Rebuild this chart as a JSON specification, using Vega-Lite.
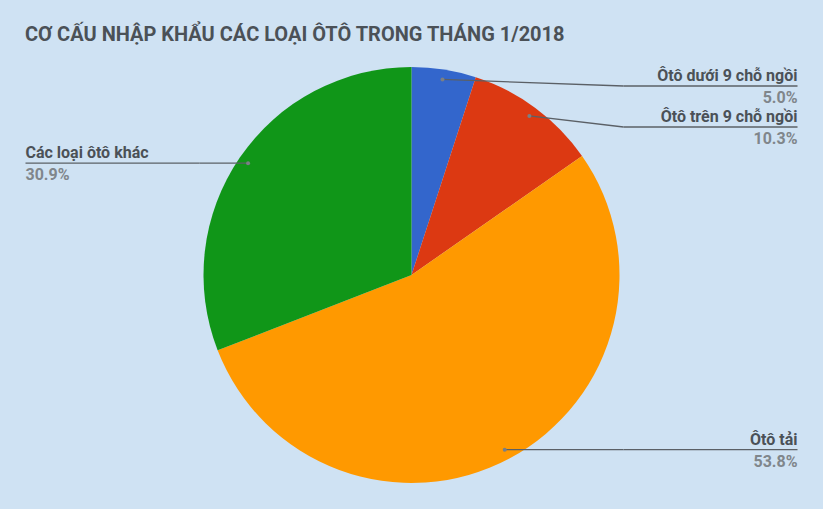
{
  "$schema": "https://vega.github.io/schema/vega-lite/v6.json",
  "width": 823,
  "height": 468,
  "autosize": "none",
  "padding": {"left": 0, "top": 41, "right": 0, "bottom": 0},
  "background": "#cfe2f3",
  "config": {"view": {"stroke": null}, "font": "Roboto"},
  "title": {
    "text": "CƠ CẤU NHẬP KHẨU CÁC LOẠI ÔTÔ TRONG THÁNG 1/2018",
    "anchor": "start",
    "frame": "group",
    "dx": 25,
    "offset": -4,
    "fontSize": 20,
    "fontWeight": "bold",
    "color": "#4b5157",
    "font": "Roboto"
  },
  "data": {
    "values": [
      {"name": "Ôtô dưới 9 chỗ ngồi", "value": 5.0, "order": 1},
      {"name": "Ôtô trên 9 chỗ ngồi", "value": 10.3, "order": 2},
      {"name": "Ôtô tải", "value": 53.8, "order": 3},
      {"name": "Các loại ôtô khác", "value": 30.9, "order": 4}
    ]
  },
  "transform": [
    {"joinaggregate": [{"op": "sum", "field": "value", "as": "total"}]},
    {"window": [{"op": "sum", "field": "value", "as": "cum"}], "sort": [{"field": "order"}]},
    {"calculate": "2 * PI * (datum.cum - datum.value / 2) / datum.total", "as": "a"},
    {"calculate": "datum.value / datum.total", "as": "pct"},
    {"calculate": "198 * sin(datum.a)", "as": "dotX"},
    {"calculate": "-198 * cos(datum.a)", "as": "dotY"},
    {"calculate": "sin(datum.a) >= 0 ? 1 : -1", "as": "side"},
    {"window": [{"op": "row_number", "as": "rank"}], "groupby": ["side"], "sort": [{"field": "dotY"}]},
    {"calculate": "max(datum.dotY, -189 + 41 * (datum.rank - 1))", "as": "lineY"},
    {"calculate": "datum.side * 212", "as": "bendX"},
    {"calculate": "datum.side * 386", "as": "endX"}
  ],
  "layer": [
    {
      "mark": {"type": "arc", "outerRadius": 208},
      "encoding": {
        "theta": {"field": "value", "type": "quantitative", "stack": true},
        "order": {"field": "order", "type": "quantitative"},
        "color": {
          "field": "name",
          "type": "nominal",
          "legend": null,
          "scale": {
            "domain": ["Ôtô dưới 9 chỗ ngồi", "Ôtô trên 9 chỗ ngồi", "Ôtô tải", "Các loại ôtô khác"],
            "range": ["#3366cc", "#dc3912", "#ff9900", "#109618"]
          }
        }
      }
    },
    {
      "mark": {"type": "rule", "color": "#5b6066", "strokeWidth": 1.3},
      "encoding": {
        "x": {"field": "dotX", "type": "quantitative", "axis": null, "scale": {"domain": [-411.5, 411.5], "nice": false, "zero": false}},
        "y": {"field": "dotY", "type": "quantitative", "axis": null, "scale": {"domain": [-234, 234], "reverse": true, "nice": false, "zero": false}},
        "x2": {"field": "bendX"},
        "y2": {"field": "lineY"}
      }
    },
    {
      "mark": {"type": "rule", "color": "#5b6066", "strokeWidth": 1.3},
      "encoding": {
        "x": {"field": "bendX", "type": "quantitative"},
        "y": {"field": "lineY", "type": "quantitative"},
        "x2": {"field": "endX"}
      }
    },
    {
      "mark": {"type": "point", "filled": true, "size": 16, "color": "#7a7f85", "opacity": 1},
      "encoding": {
        "x": {"field": "dotX", "type": "quantitative"},
        "y": {"field": "dotY", "type": "quantitative"}
      }
    },
    {
      "transform": [{"filter": "datum.side > 0"}],
      "layer": [
        {
          "mark": {"type": "text", "fontSize": 16, "fontWeight": "bold", "color": "#4b5157", "dy": -5, "baseline": "alphabetic", "align": "right"},
          "encoding": {
            "x": {"field": "endX", "type": "quantitative"},
            "y": {"field": "lineY", "type": "quantitative"},
            "text": {"field": "name"}
          }
        },
        {
          "mark": {"type": "text", "fontSize": 16, "fontWeight": "bold", "color": "#80868b", "dy": 17, "baseline": "alphabetic", "align": "right"},
          "encoding": {
            "x": {"field": "endX", "type": "quantitative"},
            "y": {"field": "lineY", "type": "quantitative"},
            "text": {"field": "pct", "format": ".1%"}
          }
        }
      ]
    },
    {
      "transform": [{"filter": "datum.side < 0"}],
      "layer": [
        {
          "mark": {"type": "text", "fontSize": 16, "fontWeight": "bold", "color": "#4b5157", "dy": -5, "baseline": "alphabetic", "align": "left"},
          "encoding": {
            "x": {"field": "endX", "type": "quantitative"},
            "y": {"field": "lineY", "type": "quantitative"},
            "text": {"field": "name"}
          }
        },
        {
          "mark": {"type": "text", "fontSize": 16, "fontWeight": "bold", "color": "#80868b", "dy": 17, "baseline": "alphabetic", "align": "left"},
          "encoding": {
            "x": {"field": "endX", "type": "quantitative"},
            "y": {"field": "lineY", "type": "quantitative"},
            "text": {"field": "pct", "format": ".1%"}
          }
        }
      ]
    }
  ]
}
